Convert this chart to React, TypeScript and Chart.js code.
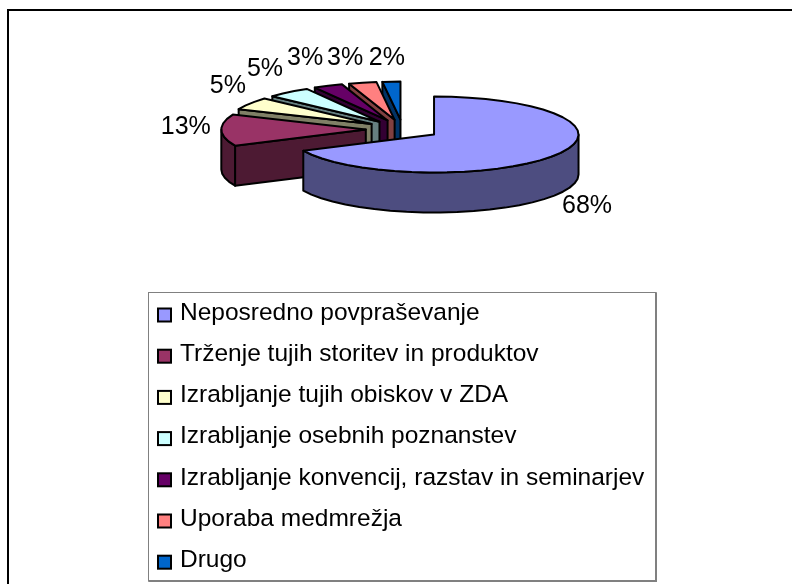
import React, { useEffect, useRef } from "react";
import { Chart, registerables } from "chart.js";

Chart.register(...registerables);

const categories = [
  "Neposredno povpraševanje",
  "Trženje tujih storitev in produktov",
  "Izrabljanje tujih obiskov v ZDA",
  "Izrabljanje osebnih poznanstev",
  "Izrabljanje konvencij, razstav in seminarjev",
  "Uporaba medmrežja",
  "Drugo",
];
const shares = [68, 13.4, 5.3, 4.9, 3.3, 3.1, 2.0];
const sliceColors = ["#9999FF", "#993366", "#FFFFCC", "#CCFFFF", "#660066", "#FF8080", "#0066CC"];
const labelNudges = [
  [31, 51.5],
  [-35.5, -3],
  [-22, -17.5],
  [-23.4, -23.5],
  [-23, -28],
  [-17.5, -24.5],
  [-4.5, -23.5],
];

const RADIUS = 144.5;
const SQUASH = 38 / 144.5;
const DEPTH = 40;
const LABEL_FONT = '25px "Liberation Sans", Arial, sans-serif';
const LEGEND_FONT = '24.5px "Liberation Sans", Arial, sans-serif';
const STEP = (7 * Math.PI) / 180;

function halfColor(hex: string) {
  const n = parseInt(hex.slice(1), 16);
  const c = (v: number) => Math.round(v / 2);
  return `rgb(${c((n >> 16) & 255)},${c((n >> 8) & 255)},${c(n & 255)})`;
}

const pie3d = {
  id: "pie3d",
  beforeDatasetDraw(chart: any, args: any) {
    const ctx = chart.ctx as CanvasRenderingContext2D;
    const arcs = args.meta.data as any[];
    const flat = (arc: any) => {
      const mid = (arc.startAngle + arc.endAngle) / 2;
      const off = (arc.options.offset || 0) / 4;
      const fx = arc.x + Math.cos(mid) * off;
      const fy = Math.sin(mid) * off;
      return {
        cx: fx,
        cy: arc.y + fy * SQUASH,
        px: (t: number, cx = fx, cyy = arc.y + fy * SQUASH) => [
          cx + Math.cos(t) * arc.outerRadius,
          cyy + Math.sin(t) * arc.outerRadius * SQUASH,
        ],
      };
    };
    const angles = (a: number, b: number) => {
      const out = [a];
      const n = Math.max(1, Math.ceil((b - a) / STEP));
      for (let i = 1; i <= n; i++) out.push(a + ((b - a) * i) / n);
      return out;
    };
    const paint = (pts: number[][], fill: string) => {
      ctx.beginPath();
      pts.forEach((p, i) => (i ? ctx.lineTo(p[0], p[1]) : ctx.moveTo(p[0], p[1])));
      ctx.closePath();
      ctx.fillStyle = fill;
      ctx.fill();
      ctx.lineWidth = 2;
      ctx.lineJoin = "round";
      ctx.strokeStyle = "#000";
      ctx.stroke();
    };
    ctx.save();
    for (let i = arcs.length - 1; i >= 0; i--) {
      const arc = arcs[i];
      const g = flat(arc);
      const a = arc.startAngle;
      const b = arc.endAngle;
      const fill = arc.options.backgroundColor;
      const side = halfColor(fill);
      const tip = [g.cx, g.cy];
      if (a > Math.PI / 2 && a < (3 * Math.PI) / 2) {
        const o = g.px(a);
        paint([tip, o, [o[0], o[1] + DEPTH], [tip[0], tip[1] + DEPTH]], side);
      }
      if (b > -Math.PI / 2 && b < Math.PI / 2) {
        const o = g.px(b);
        paint([tip, o, [o[0], o[1] + DEPTH], [tip[0], tip[1] + DEPTH]], side);
      }
      const wa = Math.max(a, 0);
      const wb = Math.min(b, Math.PI);
      if (wb > wa) {
        const top = angles(wa, wb).map((t) => g.px(t));
        const bottom = top.slice().reverse().map((p) => [p[0], p[1] + DEPTH]);
        paint([...top, ...bottom], side);
      }
      paint([tip, ...angles(a, b).map((t) => g.px(t))], fill);
    }
    ctx.restore();
    return false;
  },
  afterDraw(chart: any) {
    const ctx = chart.ctx as CanvasRenderingContext2D;
    const arcs = chart.getDatasetMeta(0).data as any[];
    const values = chart.data.datasets[0].data as number[];
    const total = values.reduce((s, v) => s + v, 0);
    ctx.save();
    ctx.font = LABEL_FONT;
    ctx.fillStyle = "#000";
    ctx.textAlign = "center";
    ctx.textBaseline = "middle";
    arcs.forEach((arc, i) => {
      const mid = (arc.startAngle + arc.endAngle) / 2;
      const off = (arc.options.offset || 0) / 4;
      const x = arc.x + Math.cos(mid) * (off + arc.outerRadius) + labelNudges[i][0];
      const y = arc.y + Math.sin(mid) * (off + arc.outerRadius) * SQUASH + labelNudges[i][1];
      ctx.fillText(`${Math.round((values[i] / total) * 100)}%`, x, y);
    });

    // frame: only the top and left lines are in the picture
    ctx.strokeStyle = "#000";
    ctx.lineWidth = 2;
    ctx.beginPath();
    ctx.moveTo(8, 584);
    ctx.lineTo(8, 10);
    ctx.lineTo(792, 10);
    ctx.stroke();

    // legend box
    const L = 148.5;
    const T = 292.5;
    const R = 656;
    const B = 581;
    ctx.strokeStyle = "#808080";
    ctx.lineWidth = 1;
    ctx.strokeRect(L, T, R - L, B - T);
    ctx.lineWidth = 2;
    ctx.beginPath();
    ctx.moveTo(R, T);
    ctx.lineTo(R, B);
    ctx.lineTo(L, B);
    ctx.stroke();

    ctx.font = LEGEND_FONT;
    ctx.textAlign = "left";
    const labels = chart.data.labels as string[];
    labels.forEach((label, i) => {
      const y = 312.5 + i * 41.2;
      ctx.fillStyle = sliceColors[i];
      ctx.strokeStyle = "#000";
      ctx.lineWidth = 2;
      ctx.fillRect(158, y - 4, 13, 13);
      ctx.strokeRect(158, y - 4, 13, 13);
      ctx.fillStyle = "#000";
      ctx.fillText(label, 180, y + 0.5);
    });
    ctx.restore();
  },
};

export default function App() {
  const ref = useRef<HTMLCanvasElement>(null);
  useEffect(() => {
    document.body.style.margin = "0";
    const chart = new Chart(ref.current!, {
      type: "pie",
      data: {
        labels: categories,
        datasets: [
          {
            data: shares,
            backgroundColor: sliceColors,
            borderColor: "#000",
            borderWidth: 2,
            offset: 148,
            hoverOffset: 0,
          },
        ],
      },
      options: {
        animation: false,
        responsive: false,
        radius: RADIUS,
        layout: { padding: { left: 13.6, right: 0, top: 0, bottom: 325.4 } },
        plugins: { legend: { display: false }, tooltip: { enabled: false } },
      } as any,
      plugins: [pie3d],
    });
    return () => chart.destroy();
  }, []);
  return (
    <canvas
      ref={ref}
      width={792}
      height={584}
      style={{ display: "block", position: "absolute", left: 0, top: 0, width: 792, height: 584 }}
    />
  );
}
